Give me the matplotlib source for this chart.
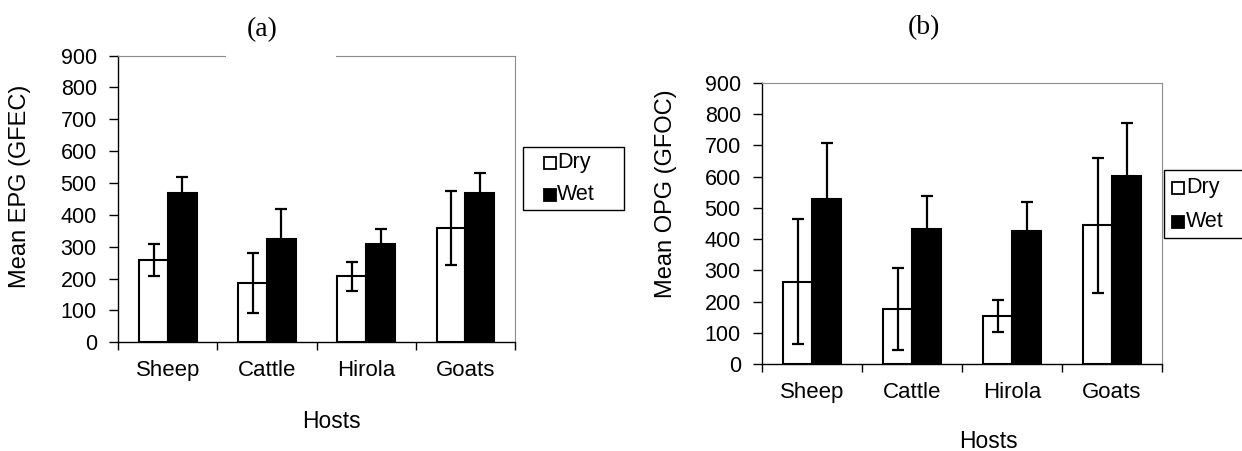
import matplotlib
matplotlib.use("Agg")
import matplotlib.pyplot as plt
from matplotlib.patches import Rectangle
from matplotlib.lines import Line2D
import numpy as np

hosts = ["Sheep", "Cattle", "Hirola", "Goats"]
seasons = ["Dry", "Wet"]
epg_dry = [258, 186, 207, 359]
epg_dry_err = [50, 93, 45, 115]
epg_wet = [467, 325, 309, 469]
epg_wet_err = [51, 93, 46, 63]
opg_dry = [264, 178, 154, 444]
opg_dry_err = [200, 131, 50, 215]
opg_wet = [527, 433, 426, 601]
opg_wet_err = [180, 106, 92, 169]
yticks = list(range(0, 901, 100))

plt.rcParams['font.family'] = ['Liberation Sans', 'DejaVu Sans']

W, H = 1242, 451
fig = plt.figure(figsize=(W / 100, H / 100), dpi=100)


def fx(x):
    return x / W


def fy(y):
    return 1 - y / H


def panel(l, r, t, b, dry, dry_err, wet, wet_err):
    ax = fig.add_axes([fx(l), fy(b), (r - l) / W, (b - t) / H])
    x = np.arange(len(hosts))
    ekw = dict(elinewidth=1.6, capsize=4.5, capthick=1.6, ecolor='black')
    ax.bar(x - 0.145, dry, 0.29, yerr=dry_err, color='white', edgecolor='black',
           linewidth=1.5, error_kw=ekw, zorder=2, label=seasons[0])
    ax.bar(x + 0.145, wet, 0.29, yerr=wet_err, color='black', edgecolor='black',
           linewidth=1.5, error_kw=ekw, zorder=3, label=seasons[1])
    ax.set_xlim(-0.5, 3.5)
    ax.set_ylim(0, 900)
    ax.set_yticks(yticks)
    ax.set_xticks(x, hosts)
    ax.set_xticks(np.arange(-0.5, 4.0, 1.0), minor=True)
    ax.tick_params(axis='x', which='major', length=0, pad=13, labelsize=16)
    ax.tick_params(axis='x', which='minor', length=6, width=1.0, direction='out')
    ax.tick_params(axis='y', length=6.5, width=1.0, pad=9, labelsize=15.5)
    for s in ['left', 'bottom']:
        ax.spines[s].set_color('black')
        ax.spines[s].set_linewidth(1.0)
    for s in ['top', 'right']:
        ax.spines[s].set_color('#8c8c8c')
        ax.spines[s].set_linewidth(0.8)
    return ax


ax1 = panel(118.3, 515, 55.5, 342.3, epg_dry, epg_dry_err, epg_wet, epg_wet_err)
ax2 = panel(762.3, 1162, 82.7, 364.3, opg_dry, opg_dry_err, opg_wet, opg_wet_err)

# gap in the top border of panel (a)
fig.patches.append(Rectangle((fx(226), fy(60)), (336 - 226) / W, 9 / H,
                             transform=fig.transFigure, facecolor='white',
                             edgecolor='none', zorder=5))

# titles
fig.text(fx(262), fy(30), "(a)", ha='center', va='center', fontsize=20,
         family=['Liberation Serif', 'DejaVu Serif'])
fig.text(fx(924), fy(28), "(b)", ha='center', va='center', fontsize=20,
         family=['Liberation Serif', 'DejaVu Serif'])

# axis labels
fig.text(fx(20), fy(186), "Mean EPG (GFEC)", rotation=90, ha='center', va='center', fontsize=17)
fig.text(fx(666), fy(194), "Mean OPG (GFOC)", rotation=90, ha='center', va='center', fontsize=17)
fig.text(fx(331), fy(422), "Hosts", ha='center', va='center', fontsize=16.5)
fig.text(fx(988), fy(441), "Hosts", ha='center', va='center', fontsize=16.5)


def legend_box(x0, y0, x1, y1, rows_y, sq_x, txt_x):
    fig.patches.append(Rectangle((fx(x0), fy(y1)), (x1 - x0) / W, (y1 - y0) / H,
                                 transform=fig.transFigure, facecolor='white',
                                 edgecolor='black', linewidth=1.0, zorder=6))
    faces = ['white', 'black']
    for yy, face, lab in zip(rows_y, faces, seasons):
        fig.lines.append(Line2D([fx(sq_x)], [fy(yy)], transform=fig.transFigure,
                                marker='s', markersize=8, markerfacecolor=face,
                                markeredgecolor='black', markeredgewidth=1.3,
                                linestyle='none', zorder=7))
        fig.text(fx(txt_x), fy(yy), lab, ha='left', va='center', fontsize=15.5, zorder=8)


legend_box(523, 147, 624, 210, [163, 195], 550, 557)
legend_box(1164, 170, 1260, 238, [188, 222], 1178, 1186)

fig.savefig("out.png", dpi=100)
